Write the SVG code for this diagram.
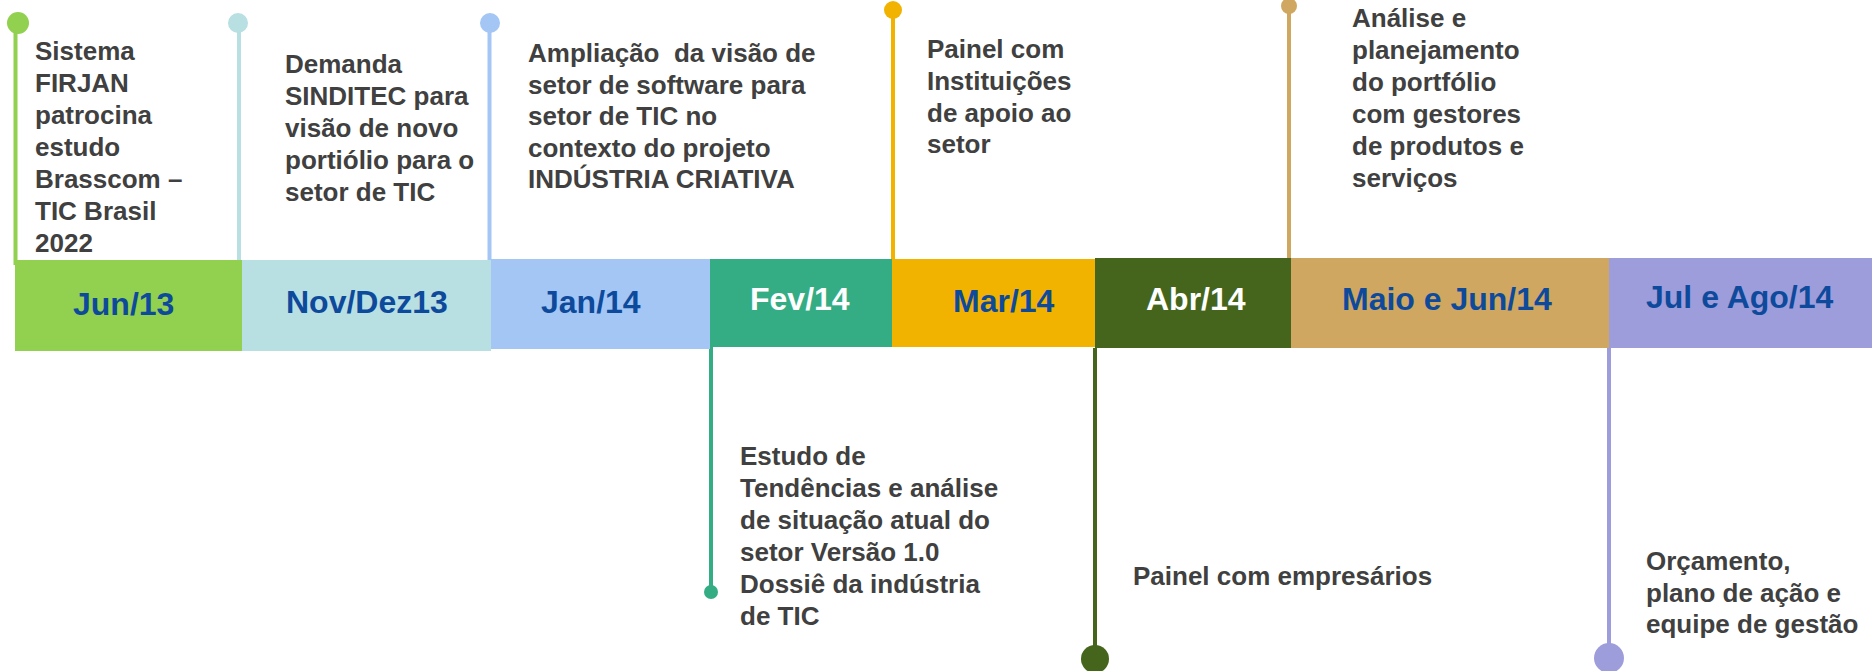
<svg xmlns="http://www.w3.org/2000/svg" width="1872" height="671" viewBox="0 0 1872 671">
<style>
.t{font-family:"Liberation Sans",Arial,sans-serif;font-weight:bold;font-size:26px;fill:#404040}
.d{font-family:"Liberation Sans",Arial,sans-serif;font-weight:bold;font-size:32px;fill:#0E4A9C}
.w{fill:#FFFFFF}
.c{fill:none;stroke-width:4}
</style>
<rect width="1872" height="671" fill="#FFFFFF"/>
<g id="connectors">
<line class="c" x1="15.5" y1="23" x2="15.5" y2="265" stroke="#92D050"/>
<line class="c" x1="239" y1="23" x2="239" y2="260" stroke="#B8DFE2" stroke-width="3"/>
<line class="c" x1="489.5" y1="23" x2="489.5" y2="270" stroke="#A3C6F5"/>
<line class="c" x1="893" y1="10" x2="893" y2="259" stroke="#F1B300"/>
<line class="c" x1="1289" y1="6" x2="1289" y2="265" stroke="#D0A760"/>
<line class="c" x1="711" y1="347" x2="711" y2="592" stroke="#34AD85"/>
<line class="c" x1="1095" y1="348" x2="1095" y2="659" stroke="#45651D" stroke-width="5"/>
<line class="c" x1="1609" y1="348" x2="1609" y2="658" stroke="#9E9DDC"/>
</g>
<g id="jun13">
<rect x="15" y="260" width="227" height="91" fill="#92D050"/>
<circle cx="18" cy="23" r="11" fill="#92D050"/>
<text class="d" x="73" y="315">Jun/13</text>
<text class="t"><tspan x="35" y="60">Sistema</tspan><tspan x="35" y="92">FIRJAN</tspan><tspan x="35" y="124">patrocina</tspan><tspan x="35" y="156">estudo</tspan><tspan x="35" y="188">Brasscom –</tspan><tspan x="35" y="220">TIC Brasil</tspan><tspan x="35" y="252">2022</tspan></text>
</g>
<g id="novdez13">
<rect x="242" y="260" width="249" height="91" fill="#B8DFE2"/>
<circle cx="238" cy="23" r="10" fill="#B8DFE2"/>
<text class="d" x="286" y="313">Nov/Dez13</text>
<text class="t"><tspan x="285" y="73">Demanda</tspan><tspan x="285" y="105">SINDITEC para</tspan><tspan x="285" y="137">visão de novo</tspan><tspan x="285" y="169">portiólio para o</tspan><tspan x="285" y="201">setor de TIC</tspan></text>
</g>
<g id="jan14">
<rect x="491" y="259" width="219" height="90" fill="#A3C6F5"/>
<circle cx="490" cy="23" r="10" fill="#A3C6F5"/>
<text class="d" x="541" y="313">Jan/14</text>
<text class="t" xml:space="preserve"><tspan x="528" y="62">Ampliação  da visão de</tspan><tspan x="528" y="93.5">setor de software para</tspan><tspan x="528" y="125">setor de TIC no</tspan><tspan x="528" y="156.5">contexto do projeto</tspan><tspan x="528" y="188">INDÚSTRIA CRIATIVA</tspan></text>
</g>
<g id="fev14">
<rect x="710" y="259" width="182" height="88" fill="#34AD85"/>
<circle cx="711" cy="592" r="7" fill="#34AD85"/>
<text class="d w" x="750" y="310">Fev/14</text>
<text class="t"><tspan x="740" y="465">Estudo de</tspan><tspan x="740" y="497">Tendências e análise</tspan><tspan x="740" y="529">de situação atual do</tspan><tspan x="740" y="561">setor Versão 1.0</tspan><tspan x="740" y="593">Dossiê da indústria</tspan><tspan x="740" y="625">de TIC</tspan></text>
</g>
<g id="mar14">
<rect x="892" y="259" width="203" height="88" fill="#F1B300"/>
<circle cx="893" cy="10" r="9" fill="#F1B300"/>
<text class="d" x="953" y="312">Mar/14</text>
<text class="t"><tspan x="927" y="58">Painel com</tspan><tspan x="927" y="90">Instituições</tspan><tspan x="927" y="122">de apoio ao</tspan><tspan x="927" y="153">setor</tspan></text>
</g>
<g id="abr14">
<rect x="1095" y="258" width="196" height="90" fill="#45651D"/>
<circle cx="1095" cy="659" r="14" fill="#45651D"/>
<text class="d w" x="1146" y="310">Abr/14</text>
<text class="t" x="1133" y="585">Painel com empresários</text>
</g>
<g id="maiojun14">
<rect x="1291" y="258" width="318" height="90" fill="#D0A760"/>
<circle cx="1289" cy="6" r="8" fill="#D0A760"/>
<text class="d" x="1342" y="310">Maio e Jun/14</text>
<text class="t"><tspan x="1352" y="27">Análise e</tspan><tspan x="1352" y="59">planejamento</tspan><tspan x="1352" y="91">do portfólio</tspan><tspan x="1352" y="123">com gestores</tspan><tspan x="1352" y="155">de produtos e</tspan><tspan x="1352" y="187">serviços</tspan></text>
</g>
<g id="julago14">
<rect x="1609" y="258" width="263" height="90" fill="#9E9DDC"/>
<circle cx="1609" cy="658" r="15" fill="#9E9DDC"/>
<text class="d" x="1646" y="308">Jul e Ago/14</text>
<text class="t"><tspan x="1646" y="570">Orçamento,</tspan><tspan x="1646" y="602">plano de ação e</tspan><tspan x="1646" y="633">equipe de gestão</tspan></text>
</g>
</svg>
